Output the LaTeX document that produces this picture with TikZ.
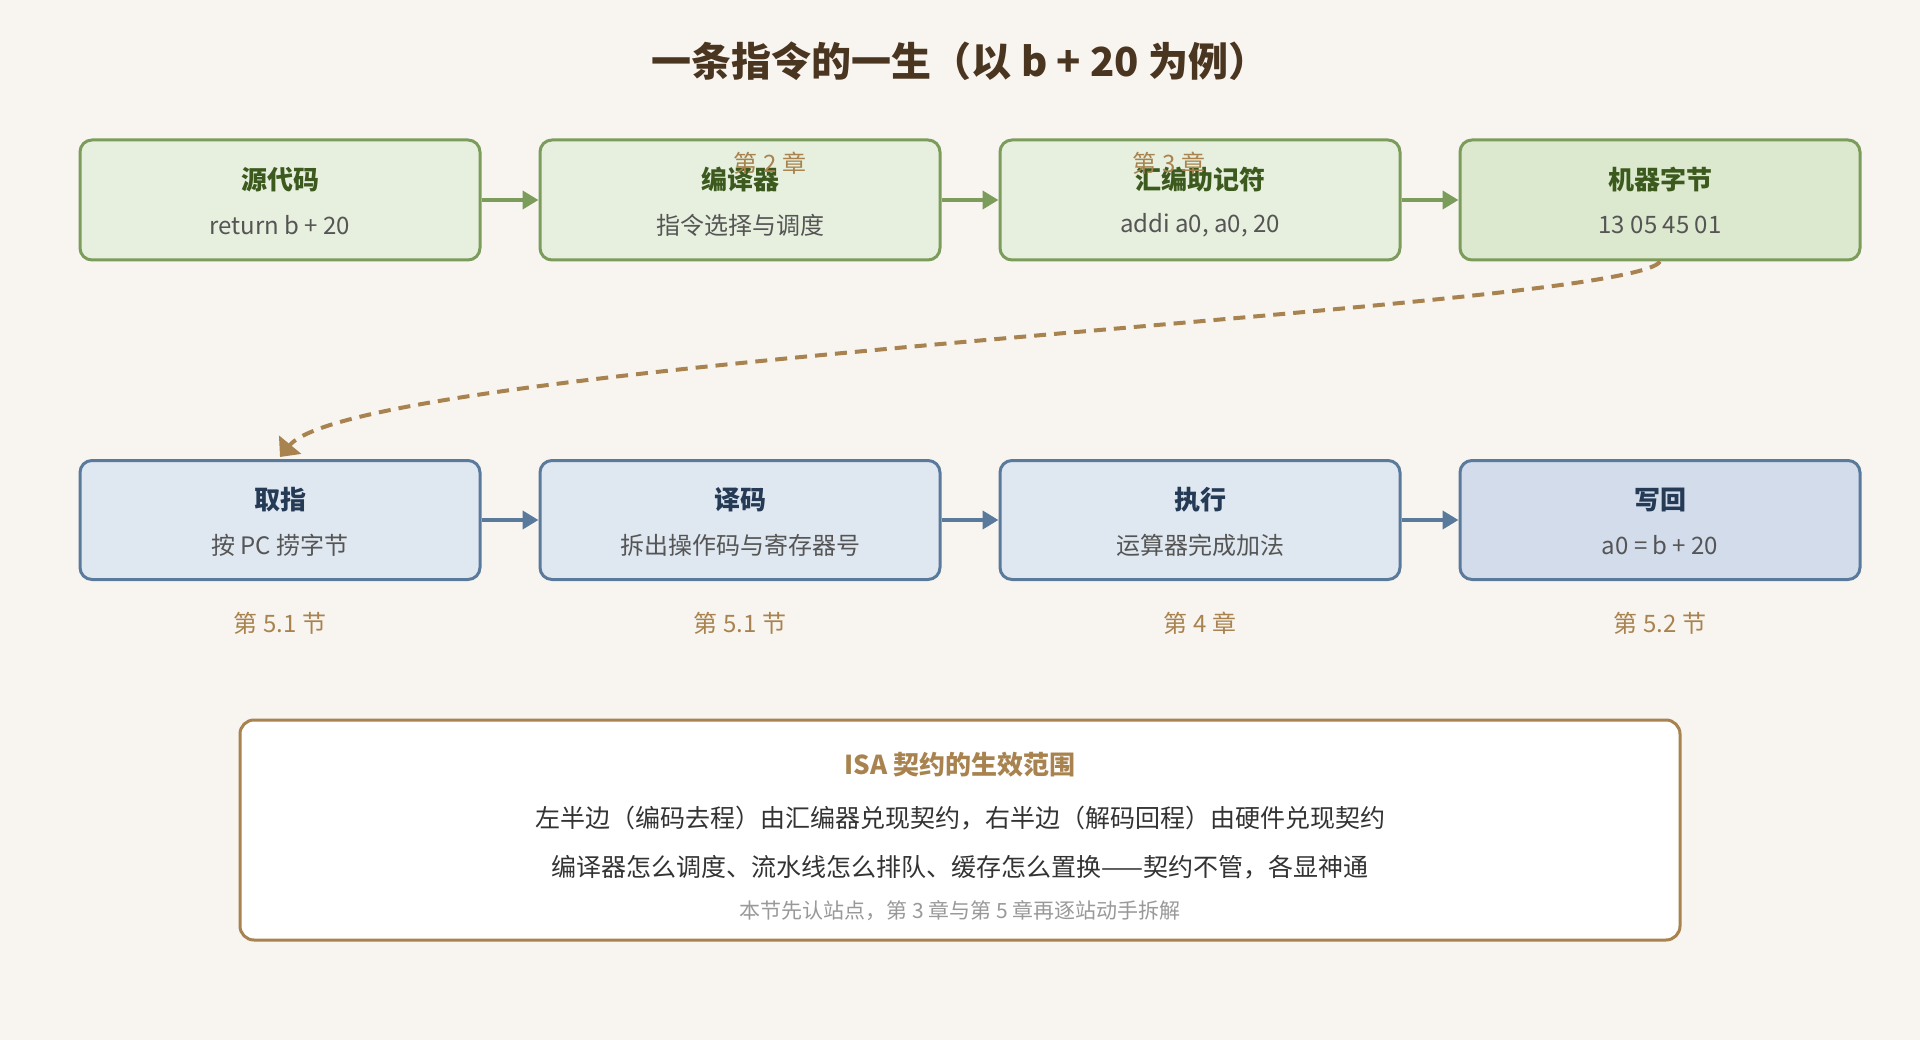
\documentclass[tikz,border=0pt]{standalone}
\usepackage{fontspec}
\setmainfont{Noto Sans CJK SC}
\usepackage{tikz}
\usetikzlibrary{arrows.meta,positioning}
\definecolor{bgc}{HTML}{F8F5F0}
\definecolor{gfill}{HTML}{E7F0DE}
\definecolor{gfillb}{HTML}{DCE9CE}
\definecolor{gline}{HTML}{7B9C5A}
\definecolor{gtext}{HTML}{3C5A1E}
\definecolor{bfill}{HTML}{DFE7F0}
\definecolor{bfillb}{HTML}{D2DCEB}
\definecolor{bline}{HTML}{5A7A9C}
\definecolor{btext}{HTML}{243A55}
\definecolor{brn}{HTML}{A8834F}
\definecolor{txt}{HTML}{555555}
\definecolor{ttl}{HTML}{4A3520}
\definecolor{dark}{HTML}{333333}
\definecolor{light}{HTML}{999999}
\tikzstyle{gbox} = [draw=gline, fill=gfill, line width=3pt, rounded corners=12pt, minimum width=400pt, minimum height=120pt]
\tikzstyle{bbox} = [draw=bline, fill=bfill, line width=3pt, rounded corners=12pt, minimum width=400pt, minimum height=119pt]
\tikzstyle{head} = [font=\fontsize{26}{30}\selectfont\bfseries]
\tikzstyle{sub} = [font=\fontsize{24}{28}\selectfont, text=txt]
\tikzstyle{chap} = [font=\fontsize{24}{28}\selectfont, text=brn]
\tikzstyle{garrow} = [draw=gline, line width=4pt, -{Triangle[length=16pt,width=18pt]}]
\tikzstyle{barrow} = [draw=bline, line width=4pt, -{Triangle[length=16pt,width=18pt]}]
\begin{document}
\begin{tikzpicture}[x=1pt, y=-1pt]
    \fill[bgc] (0,0) rectangle (1920,1040);
    \node [font=\fontsize{40}{46}\selectfont\bfseries, text=ttl] (title) at (960,61) {一条指令的一生（以 b + 20 为例）};
    % top row
    \node [gbox] (src) at (280,200) {};
    \node [gbox] (cmp) at (740,200) {};
    \node [gbox] (asm) at (1200,200) {};
    \node [gbox, fill=gfillb] (mc) at (1660,200) {};
    \draw [garrow] (src) -- (cmp);
    \draw [garrow] (cmp) -- (asm);
    \draw [garrow] (asm) -- (mc);
    \node [head, text=gtext] at (280,180) {源代码};
    \node [sub] at (280,225) {return b + 20};
    \node [head, text=gtext] at (740,180) {编译器};
    \node [sub] at (740,225) {指令选择与调度};
    \node [head, text=gtext] at (1200,180) {汇编助记符};
    \node [sub] at (1200,225) {addi a0, a0, 20};
    \node [head, text=gtext] at (1660,180) {机器字节};
    \node [sub] at (1660,225) {13 05 45 01};
    \node [chap] (c2) at (770,163) {第 2 章};
    \node [chap] (c3) at (1169,163) {第 3 章};
    % bottom row
    \node [bbox] (fet) at (280,520) {};
    \node [bbox] (dec) at (740,520) {};
    \node [bbox] (exe) at (1200,520) {};
    \node [bbox, fill=bfillb] (wb) at (1660,520) {};
    \draw [barrow] (fet) -- (dec);
    \draw [barrow] (dec) -- (exe);
    \draw [barrow] (exe) -- (wb);
    \node [head, text=btext] at (280,500) {取指};
    \node [sub] at (280,545) {按 PC 捞字节};
    \node [head, text=btext] at (740,500) {译码};
    \node [sub] at (740,545) {拆出操作码与寄存器号};
    \node [head, text=btext] at (1200,500) {执行};
    \node [sub] at (1200,545) {运算器完成加法};
    \node [head, text=btext] at (1660,500) {写回};
    \node [sub] at (1660,545) {a0 = b + 20};
    \node [chap] at (280,623) {第 5.1 节};
    \node [chap] at (740,623) {第 5.1 节};
    \node [chap] at (1200,623) {第 4 章};
    \node [chap] at (1660,623) {第 5.2 节};
    % jump back
    \coordinate (tip) at (280,457);
    \draw [brn, line width=4pt, dash pattern=on 12pt off 8pt, -{Triangle[length=16pt,width=28pt]}]
        (mc.south) .. controls (1630,310) and (360,360) .. (tip);
    % contract box
    \node [draw=brn, fill=white, line width=3pt, rounded corners=14pt, minimum width=1440pt, minimum height=220pt] (isa) at (960,830) {};
    \node [font=\fontsize{26}{30}\selectfont\bfseries, text=brn] at (960,765) {ISA 契约的生效范围};
    \node [font=\fontsize{25}{30}\selectfont, text=dark] at (960,818) {左半边（编码去程）由汇编器兑现契约，右半边（解码回程）由硬件兑现契约};
    \node [font=\fontsize{25}{30}\selectfont, text=dark] at (960,867) {编译器怎么调度、流水线怎么排队、缓存怎么置换——契约不管，各显神通};
    \node [font=\fontsize{21}{25}\selectfont, text=light] at (960,911) {本节先认站点，第 3 章与第 5 章再逐站动手拆解};
\end{tikzpicture}
\end{document}
